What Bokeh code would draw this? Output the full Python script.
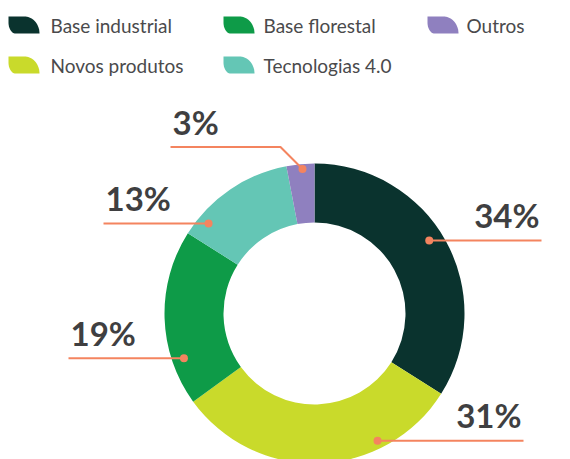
import numpy as np
from bokeh.plotting import figure
from bokeh.models import Range1d, ColumnDataSource
from bokeh.core.properties import value
from bokeh.embed import file_html
from bokeh.resources import INLINE

# ---- data ----
categories = ["Base industrial", "Novos produtos", "Base florestal", "Tecnologias 4.0", "Outros"]
shares = [34, 31, 19, 13, 3]
colors = ["#0a332e", "#c9da2b", "#0e9b48", "#64c6b5", "#8f80bf"]

# ---- layout (pixel-like data units, donut centre at 0,0) ----
W, H = 570, 459
CX, CY = 314, 313          # donut centre in page pixels
R_OUT, R_IN = 150, 91
label_frac = [0.47, 0.28, 0.25, 0.17, 0.56]   # where the dot sits inside its wedge
label_r = [136, 142, 138, 139, 145]
line_end_x = [227, 209, -246, -211, -144]
elbow = [None, None, None, None, (-22, 22)]
ACCENT = "#f4845f"
LBL_SIZE = 33
LEG_SIZE = 19
BASE_FIX = 0.39  # compensation for svg alphabetic baseline placement

p = figure(width=W, height=H, output_backend="svg", toolbar_location=None,
           x_range=Range1d(-CX, W - CX), y_range=Range1d(CY - H, CY),
           min_border=0, outline_line_color=None, background_fill_color="white")
p.axis.visible = False
p.grid.visible = False

tot = float(sum(shares))
cum = np.concatenate([[0], np.cumsum(shares)]) / tot
start = np.pi / 2 - cum[:-1] * 2 * np.pi
end = np.pi / 2 - cum[1:] * 2 * np.pi

src = ColumnDataSource(dict(start=start, end=end, color=colors, cat=categories))
p.annular_wedge(x=0, y=0, inner_radius=R_IN, outer_radius=R_OUT,
                start_angle="start", end_angle="end", direction="clock",
                fill_color="color", line_color=None, source=src)

# ---- labels ----
dx, dy, lxs, lys, tx, ty, ta, tt = [], [], [], [], [], [], [], []
for i, s in enumerate(shares):
    th = start[i] - label_frac[i] * (start[i] - end[i])
    x0, y0 = label_r[i] * np.cos(th), label_r[i] * np.sin(th)
    dx.append(x0); dy.append(y0)
    xs, ys = [x0], [y0]
    if elbow[i] is not None:
        x0, y0 = x0 + elbow[i][0], y0 + elbow[i][1]
        xs.append(x0); ys.append(y0)
    xs.append(line_end_x[i]); ys.append(y0)
    lxs.append(xs); lys.append(ys)
    if line_end_x[i] > x0:
        tx.append(line_end_x[i] - 2); ta.append("right")
    else:
        tx.append(line_end_x[i] + 2); ta.append("left")
    ty.append(y0 + 12.5 + BASE_FIX * LBL_SIZE)
    tt.append(f"{s}%")

p.multi_line(xs=lxs, ys=lys, line_color=ACCENT, line_width=2)
p.scatter(x=dx, y=dy, size=8, fill_color=ACCENT, line_color=None)
p.text(x=tx, y=ty, text=tt, text_align=ta, text_baseline="alphabetic",
       text_font=value("Lato"), text_font_style="bold", text_font_size=f"{LBL_SIZE}px",
       text_color="#3f3f41")

# ---- legend with leaf markers ----
def leaf(x0, y0, w=31, h=17):
    pts = [(x0, y0 + h)]
    rx, ry = 15, h
    cx, cy = x0 + w - rx, y0
    for a in np.linspace(np.pi / 2, 0, 20):
        pts.append((cx + rx * np.cos(a), cy + ry * np.sin(a)))
    rx2, ry2 = 7, 11
    cx2, cy2 = x0 + rx2, y0 + ry2
    for a in np.linspace(1.5 * np.pi, np.pi, 15):
        pts.append((cx2 + rx2 * np.cos(a), cy2 + ry2 * np.sin(a)))
    return [q[0] for q in pts], [q[1] for q in pts]

col_marker_x = [8, 223, 427]
col_text_x = [50, 263, 466]
row_base_y = [32, 72]
mxs, mys, ltx, lty = [], [], [], []
for i, c in enumerate(categories):
    col, row = i // 2, i % 2
    px, py = col_marker_x[col] - CX, CY - (row_base_y[row] + 1)
    a, b = leaf(px, py)
    mxs.append(a); mys.append(b)
    ltx.append(col_text_x[col] - CX)
    lty.append(CY - row_base_y[row] + BASE_FIX * LEG_SIZE)
p.patches(xs=mxs, ys=mys, fill_color=colors, line_color=None)
p.text(x=ltx, y=lty, text=categories, text_align="left", text_baseline="alphabetic",
       text_font=value("Lato"), text_font_size=f"{LEG_SIZE}px", text_color="#4a4a4c")

open("out.html", "w").write(file_html(p, INLINE))
